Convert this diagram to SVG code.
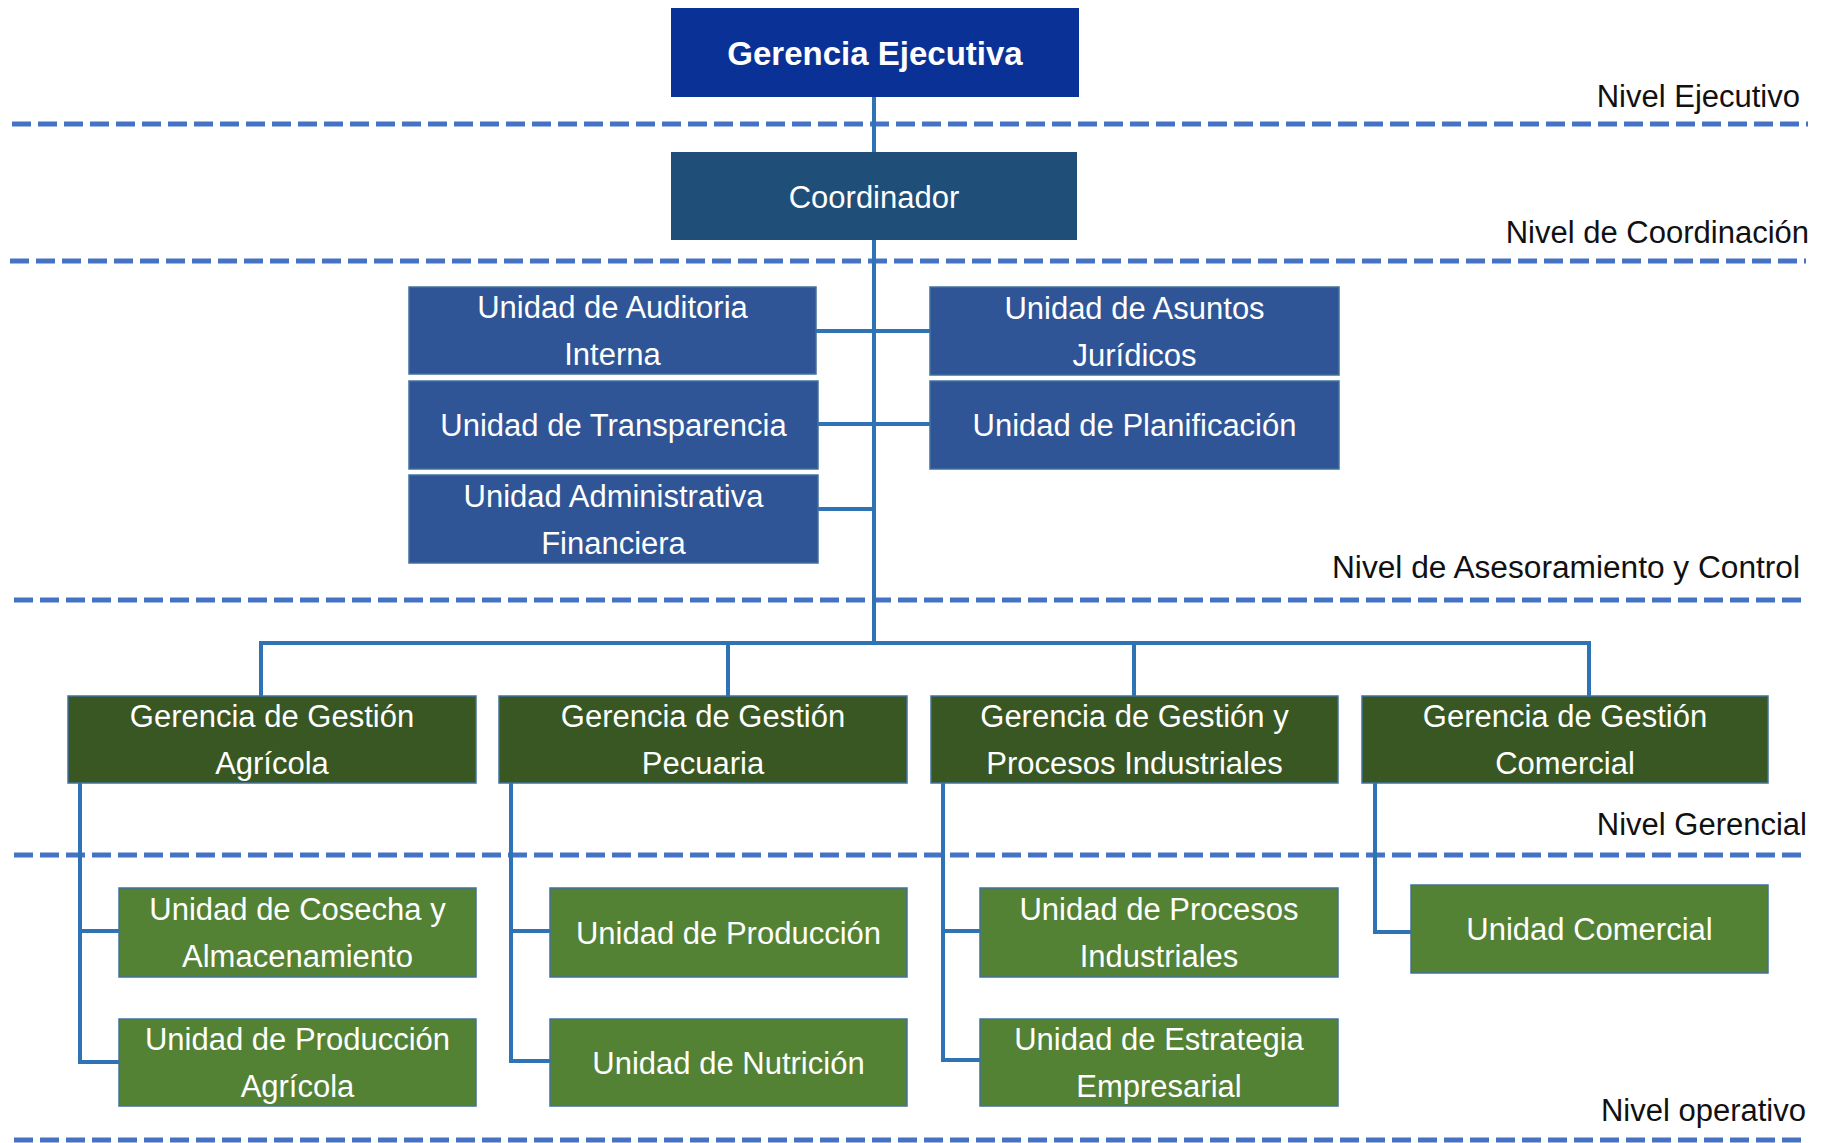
<svg xmlns="http://www.w3.org/2000/svg" width="1829" height="1143" viewBox="0 0 1829 1143">
<defs>
<style>
.t{font-family:"Liberation Sans",Arial,sans-serif;font-size:31px;fill:#ffffff;text-anchor:middle}
.tb{font-family:"Liberation Sans",Arial,sans-serif;font-size:33px;font-weight:bold;fill:#ffffff;text-anchor:middle}
.lvl{font-family:"Liberation Sans",Arial,sans-serif;font-size:31px;fill:#111111;text-anchor:end}
.dash{stroke:#4472c4;stroke-width:5;stroke-dasharray:19 7;fill:none}
.con{stroke:#2e74b5;stroke-width:4;fill:none}
.ge{fill:#0a3195}
.co{fill:#1f4e79}
.ub{fill:#2f5597;stroke:#41719c;stroke-width:1.5}
.gg{fill:#385723;stroke:#41719c;stroke-width:1.5}
.ug{fill:#548235;stroke:#41719c;stroke-width:1.5}
</style>
</defs>
<rect width="1829" height="1143" fill="#ffffff"/>
<g id="levels">
<line class="dash" x1="12" y1="124" x2="1808" y2="124"/>
<line class="dash" x1="10" y1="261" x2="1806" y2="261"/>
<line class="dash" x1="14" y1="600" x2="1808" y2="600"/>
<line class="dash" x1="14" y1="855" x2="1808" y2="855"/>
<line class="dash" x1="14" y1="1140" x2="1808" y2="1140"/>
<text class="lvl" x="1800" y="107">Nivel Ejecutivo</text>
<text class="lvl" x="1809" y="243">Nivel de Coordinación</text>
<text class="lvl" x="1800" y="578" textLength="468" lengthAdjust="spacingAndGlyphs">Nivel de Asesoramiento y Control</text>
<text class="lvl" x="1807" y="835">Nivel Gerencial</text>
<text class="lvl" x="1806" y="1121">Nivel operativo</text>
</g>
<g id="connectors">
<path class="con" d="M874 97 V643"/>
<path class="con" d="M816 331 H930"/>
<path class="con" d="M818 424 H930"/>
<path class="con" d="M818 509 H874"/>
<path class="con" d="M261 696 V643 H1589 V696"/>
<path class="con" d="M728 643 V696"/>
<path class="con" d="M1134 643 V696"/>
<path class="con" d="M80 783 V1062 H119"/>
<path class="con" d="M80 931 H119"/>
<path class="con" d="M511 783 V1061 H550"/>
<path class="con" d="M511 931 H550"/>
<path class="con" d="M943 783 V1060 H980"/>
<path class="con" d="M943 931 H980"/>
<path class="con" d="M1375 783 V932 H1411"/>
</g>
<g id="gerencia-ejecutiva"><rect class="ge" x="671" y="8" width="408" height="89"/><text class="tb" x="875" y="65">Gerencia Ejecutiva</text></g>
<g id="coordinador"><rect class="co" x="671" y="152" width="406" height="88"/><text class="t" x="874" y="208">Coordinador</text></g>
<g id="u-auditoria"><rect class="ub" x="409" y="287" width="407" height="87"/><text class="t" x="612.5" y="318">Unidad de Auditoria</text><text class="t" x="612.5" y="365">Interna</text></g>
<g id="u-transparencia"><rect class="ub" x="409" y="381" width="409" height="88"/><text class="t" x="613.5" y="436">Unidad de Transparencia</text></g>
<g id="u-administrativa"><rect class="ub" x="409" y="475" width="409" height="88"/><text class="t" x="613.5" y="506.5">Unidad Administrativa</text><text class="t" x="613.5" y="553.5">Financiera</text></g>
<g id="u-juridicos"><rect class="ub" x="930" y="287" width="409" height="88"/><text class="t" x="1134.5" y="318.5">Unidad de Asuntos</text><text class="t" x="1134.5" y="365.5">Jurídicos</text></g>
<g id="u-planificacion"><rect class="ub" x="930" y="381" width="409" height="88"/><text class="t" x="1134.5" y="436">Unidad de Planificación</text></g>
<g id="g-agricola"><rect class="gg" x="68" y="696" width="408" height="87"/><text class="t" x="272" y="727">Gerencia de Gestión</text><text class="t" x="272" y="774">Agrícola</text></g>
<g id="g-pecuaria"><rect class="gg" x="499" y="696" width="408" height="87"/><text class="t" x="703" y="727">Gerencia de Gestión</text><text class="t" x="703" y="774">Pecuaria</text></g>
<g id="g-industriales"><rect class="gg" x="931" y="696" width="407" height="87"/><text class="t" x="1134.5" y="727">Gerencia de Gestión y</text><text class="t" x="1134.5" y="774">Procesos Industriales</text></g>
<g id="g-comercial"><rect class="gg" x="1362" y="696" width="406" height="87"/><text class="t" x="1565" y="727">Gerencia de Gestión</text><text class="t" x="1565" y="774">Comercial</text></g>
<g id="u-cosecha"><rect class="ug" x="119" y="888" width="357" height="89"/><text class="t" x="297.5" y="920">Unidad de Cosecha y</text><text class="t" x="297.5" y="967">Almacenamiento</text></g>
<g id="u-produccion-agricola"><rect class="ug" x="119" y="1019" width="357" height="87"/><text class="t" x="297.5" y="1050">Unidad de Producción</text><text class="t" x="297.5" y="1097">Agrícola</text></g>
<g id="u-produccion"><rect class="ug" x="550" y="888" width="357" height="89"/><text class="t" x="728.5" y="943.5">Unidad de Producción</text></g>
<g id="u-nutricion"><rect class="ug" x="550" y="1019" width="357" height="87"/><text class="t" x="728.5" y="1073.5">Unidad de Nutrición</text></g>
<g id="u-procesos"><rect class="ug" x="980" y="888" width="358" height="89"/><text class="t" x="1159" y="920">Unidad de Procesos</text><text class="t" x="1159" y="967">Industriales</text></g>
<g id="u-estrategia"><rect class="ug" x="980" y="1019" width="358" height="87"/><text class="t" x="1159" y="1050">Unidad de Estrategia</text><text class="t" x="1159" y="1097">Empresarial</text></g>
<g id="u-comercial"><rect class="ug" x="1411" y="885" width="357" height="88"/><text class="t" x="1589.5" y="940">Unidad Comercial</text></g>
</svg>
